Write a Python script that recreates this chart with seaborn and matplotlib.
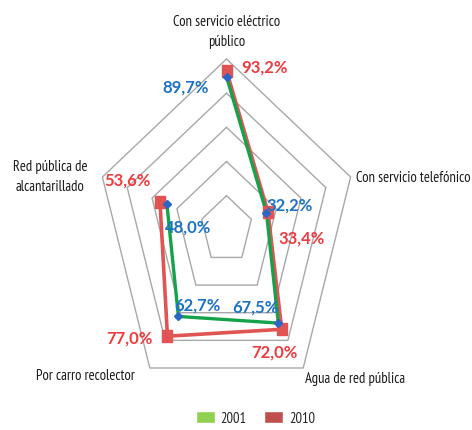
import numpy as np
import matplotlib

matplotlib.use('Agg')
import matplotlib.pyplot as plt
import seaborn as sns
import pandas as pd
from matplotlib.patches import Patch
from matplotlib import font_manager

# --- data ---
categories = ['Con servicio eléctrico\npúblico', 'Con servicio telefónico',
              'Agua de red pública', 'Por carro recolector',
              'Red pública de\nalcantarillado']
values_2001 = [89.7, 32.2, 67.5, 62.7, 48.0]
values_2010 = [93.2, 33.4, 72.0, 77.0, 53.6]
ring_levels = [20, 40, 60, 80, 100]
series_names = ['2001', '2010']

sns.set_style('white')
installed = {f.name for f in font_manager.fontManager.ttflist}
prefs = ['Myriad Pro', 'PT Sans Narrow', 'Roboto Condensed', 'Open Sans Condensed',
         'Fira Sans Condensed', 'Archivo Narrow', 'Asap Condensed',
         'Barlow Semi Condensed', 'Liberation Sans Narrow', 'Lato']
narrow = next(f for f in prefs if f in installed or f == 'Lato')
plt.rcParams['font.family'] = ['Lato', 'DejaVu Sans']

GREEN_LINE = '#14A24A'
RED_LINE = '#E05454'
BLUE_TXT = '#1C73C6'
RED_TXT = '#EF3A3E'
GRID = '#A8A8A8'

PX = 0.72  # points per pixel at dpi 100

n = len(categories)
theta = np.linspace(0, 2 * np.pi, n, endpoint=False)
theta_closed = np.append(theta, theta[0])

fig = plt.figure(figsize=(4.72, 4.31), dpi=100)
ax = fig.add_axes([0.2034, 0.0682, 0.553, 0.7926], projection='polar')
ax.set_aspect('auto')  # the original is stretched vertically
ax.set_theta_zero_location('N')
ax.set_theta_direction(-1)
ax.set_ylim(0, 100)
ax.grid(False)
ax.spines['polar'].set_visible(False)
ax.set_xticks([])
ax.set_yticks([])
ax.patch.set_alpha(0)

# pentagon grid
for lvl in ring_levels:
    ax.plot(theta_closed, [lvl] * (n + 1), color=GRID, lw=1.0, zorder=1, clip_on=False)

df = pd.DataFrame({
    'theta': np.concatenate([theta_closed, theta_closed]),
    'value': np.concatenate([np.append(values_2010, values_2010[0]),
                             np.append(values_2001, values_2001[0])]),
    'year': ['2010'] * (n + 1) + ['2001'] * (n + 1),
})

sns.lineplot(data=df[df.year == '2010'], x='theta', y='value', sort=False,
             color=RED_LINE, lw=2.6, ax=ax, zorder=3, legend=False)
sns.lineplot(data=df[df.year == '2001'], x='theta', y='value', sort=False,
             color=GREEN_LINE, lw=2.4, ax=ax, zorder=4, legend=False)
tall_square = [(-1, -1.3), (1, -1.3), (1, 1.3), (-1, 1.3), (-1, -1.3)]
ax.plot(theta, values_2010, ls='none', marker=tall_square, ms=9, color=RED_LINE,
        zorder=5, clip_on=False)
ax.plot(theta, values_2001, ls='none', marker='D', ms=4, color='#2A66C8',
        zorder=6, clip_on=False)
ax.set_xlabel('')
ax.set_ylabel('')
ax.set_ylim(0, 100)

# value labels (pixel offsets from the point)
off_2001 = [(-41, 10), (23, -8), (-23, -17), (19, -12), (21, 22)]
off_2010 = [(38, -4), (34, 25), (-7, 22), (-38, 1), (-32, -22)]
for vals, offs, col in [(values_2001, off_2001, BLUE_TXT), (values_2010, off_2010, RED_TXT)]:
    for t, v, (dx, dy) in zip(theta, vals, offs):
        ax.annotate(f'{v:.1f}%'.replace('.', ','), xy=(t, v),
                    xytext=(dx * PX, -dy * PX), textcoords='offset points',
                    ha='center', va='center', fontsize=12, fontweight='bold',
                    color=col, zorder=7, annotation_clip=False)

# category labels
cat_size = 8.2 if narrow == 'Lato' else 10.5
cat_offs = [(0, -28, 'center'), (5, 0, 'left'), (2, 10, 'left'),
            (-15, 7, 'right'), (-52, -1, 'center')]
for t, lab, (dx, dy, ha) in zip(theta, categories, cat_offs):
    ax.annotate(lab, xy=(t, 100), xytext=(dx * PX, -dy * PX),
                textcoords='offset points', ha=ha, va='center',
                fontsize=cat_size, family=[narrow, 'DejaVu Sans'],
                color='#1A1A1A', linespacing=1.55, annotation_clip=False)

handles = [Patch(facecolor='#92D050', label='2001'),
           Patch(facecolor='#C0504D', label='2010')]
fig.legend(handles=handles, loc='center', bbox_to_anchor=(0.541, 1 - 419 / 431),
           ncol=2, frameon=False, prop={'family': [narrow, 'DejaVu Sans'], 'size': cat_size},
           handlelength=1.3, handleheight=0.9, columnspacing=1.2, handletextpad=0.4)

fig.savefig('out.png', dpi=100)
